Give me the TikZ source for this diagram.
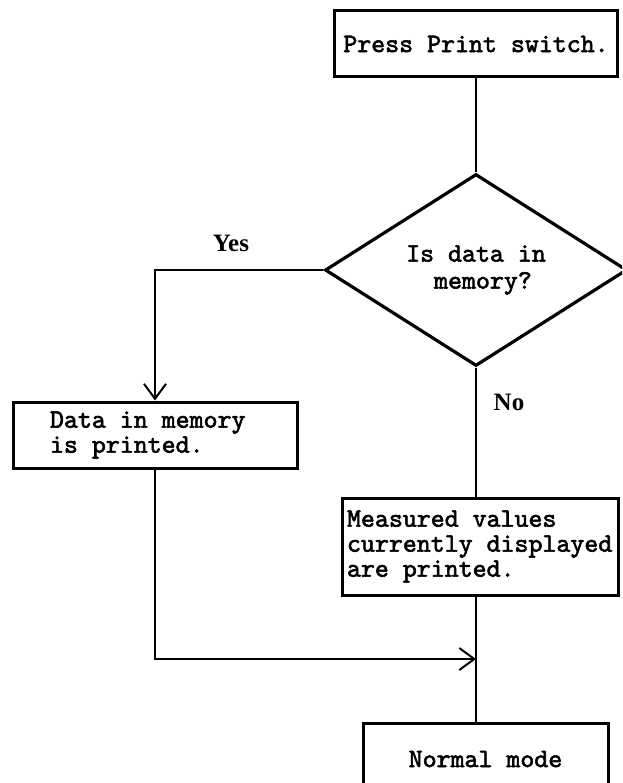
\documentclass[tikz,border=0pt]{standalone}
\usepackage{fontspec}
\usetikzlibrary{shapes.geometric,arrows.meta}
\newfontfamily\monof[Extension=.otf,FakeBold=2.2,WordSpace={1,0,0}]{lmmono10-regular}
\newfontfamily\labf{Liberation Serif}
\tikzset{
  box/.style={draw, line width=3pt, inner sep=0pt, font=\monof\fontsize{26.6}{25}\selectfont},
  conn/.style={line width=2pt},
  arr/.style={conn, -{Straight Barb[length=15pt,width=22pt,line width=2pt]}},
  lab/.style={font=\labf\bfseries\fontsize{25}{27}\selectfont, inner sep=0pt}
}
\begin{document}
\begin{tikzpicture}[x=1pt,y=-1pt]
\useasboundingbox (0,0) rectangle (622,783);
\clip (0,0) rectangle (622,783);
\node[box, minimum width=283pt, minimum height=66pt, align=center] (top) at (476,44) {Press Print switch.};
\node[draw, shape=diamond, line width=3.2pt, inner sep=0pt, minimum width=302pt, minimum height=192pt,
      font=\monof\fontsize{26.6}{27}\selectfont, align=left] (dia) at (476,270)
      {Is data in\\\hspace*{1.05em}memory?};
\node[box, minimum width=284pt, minimum height=66pt, text width=210pt, inner xsep=37pt, align=flush left] (data) at (155,435)
      {Data in memory\\is printed.};
\node[box, minimum width=276pt, minimum height=97pt, text width=266pt, inner xsep=5pt, align=flush left] (meas) at (480,546.5)
      {Measured values\\currently displayed\\are printed.};
\node[box, minimum width=245pt, minimum height=72pt, align=center] (norm) at (485.5,759) {Normal mode};
\node[lab] (yes) at (231,243) {Yes};
\node[lab] (no) at (509,402) {No};
\coordinate (m) at (476,659);
\draw[conn] (top.south) -- (dia.north);
\draw[arr] (dia.west) -| (data.north);
\draw[conn] (dia.south) -- (dia.south |- meas.north);
\draw[arr] (data.south) |- (m);
\draw[conn] (dia.south |- meas.south) -- (dia.south |- norm.north);
\end{tikzpicture}
\end{document}
